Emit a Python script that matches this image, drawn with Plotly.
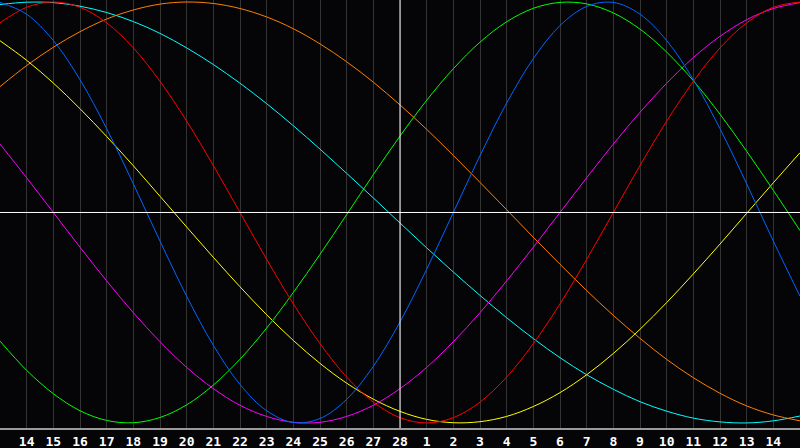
import plotly.graph_objects as go

# Day labels shown under the vertical grid lines (Feb 14 .. Feb 28, Mar 1 .. Mar 14)
day_labels = [str(d) for d in range(14, 29)] + [str(d) for d in range(1, 15)]
# sample positions: one per day, from the day before the first label to the day after the last
day_index = list(range(31))

# cycle values (one value per day, -1 .. 1)
physical_blue = [0.998, 0.942, 0.817, 0.631, 0.398, 0.136, -0.136, -0.398, -0.631, -0.817,
                 -0.942, -0.998, -0.979, -0.888, -0.731, -0.520, -0.270, 0.000, 0.270, 0.520,
                 0.731, 0.888, 0.979, 0.998, 0.942, 0.817, 0.631, 0.398, 0.136, -0.136, -0.398]
emotional_red = [0.901, 0.975, 1.000, 0.975, 0.901, 0.782, 0.623, 0.434, 0.223, 0.000,
                 -0.223, -0.434, -0.623, -0.782, -0.901, -0.975, -1.000, -0.975, -0.901, -0.782,
                 -0.623, -0.434, -0.223, 0.000, 0.223, 0.434, 0.623, 0.782, 0.901, 0.975, 1.000]
intellectual_green = [-0.611, -0.750, -0.861, -0.942, -0.988, -0.999, -0.974, -0.914, -0.820, -0.697,
                      -0.549, -0.380, -0.199, -0.010, 0.180, 0.363, 0.533, 0.683, 0.809, 0.906,
                      0.970, 0.998, 0.991, 0.948, 0.871, 0.762, 0.626, 0.467, 0.291, 0.105, -0.086]
intuitive_magenta = [0.325, 0.165, 0.000, -0.165, -0.325, -0.476, -0.614, -0.736, -0.837, -0.916,
                     -0.969, -0.997, -0.997, -0.969, -0.916, -0.837, -0.736, -0.614, -0.476, -0.325,
                     -0.165, 0.000, 0.165, 0.325, 0.476, 0.614, 0.736, 0.837, 0.916, 0.969, 0.997]
aesthetic_yellow = [0.816, 0.723, 0.615, 0.493, 0.361, 0.222, 0.077, -0.069, -0.213, -0.353,
                    -0.486, -0.608, -0.717, -0.811, -0.887, -0.945, -0.983, -0.999, -0.994, -0.969,
                    -0.922, -0.856, -0.771, -0.670, -0.555, -0.428, -0.292, -0.150, -0.004, 0.141, 0.284]
awareness_orange = [0.598, 0.698, 0.785, 0.859, 0.919, 0.962, 0.990, 1.000, 0.993, 0.969,
                    0.929, 0.873, 0.801, 0.716, 0.619, 0.511, 0.395, 0.271, 0.143, 0.013,
                    -0.118, -0.246, -0.371, -0.489, -0.598, -0.698, -0.785, -0.859, -0.919, -0.962, -0.990]
spiritual_cyan = [0.988, 0.999, 0.997, 0.980, 0.950, 0.907, 0.851, 0.782, 0.703, 0.614,
                  0.517, 0.412, 0.301, 0.186, 0.069, -0.050, -0.168, -0.283, -0.394, -0.500,
                  -0.599, -0.690, -0.771, -0.840, -0.899, -0.944, -0.977, -0.995, -1.000, -0.990, -0.967]

series = [
    ("Spiritual", spiritual_cyan, "#00ffff"),
    ("Awareness", awareness_orange, "#ff8000"),
    ("Aesthetic", aesthetic_yellow, "#ffff00"),
    ("Intuitive", intuitive_magenta, "#ff00ff"),
    ("Intellectual", intellectual_green, "#00ff00"),
    ("Emotional", emotional_red, "#ff0000"),
    ("Physical", physical_blue, "#0066ff"),
]

fig = go.Figure()
for name, vals, col in series:
    fig.add_trace(go.Scatter(x=day_index, y=vals, mode="lines", name=name,
                             line=dict(color=col, width=1, shape="spline"),
                             hoverinfo="skip"))

tick_pos = day_index[1:-1]
center_pos = tick_pos[day_labels.index("28")]

fig.add_shape(type="line", xref="x", yref="paper", x0=center_pos, x1=center_pos, y0=0, y1=1,
              line=dict(color="#ffffff", width=1), layer="above")
fig.add_shape(type="line", xref="paper", yref="y", x0=0, x1=1, y0=0, y1=0,
              line=dict(color="#ffffff", width=1), layer="above")

fig.update_layout(
    width=800, height=448,
    margin=dict(l=0, r=0, t=0, b=20, pad=0),
    paper_bgcolor="#050508",
    plot_bgcolor="#050508",
    showlegend=False,
    xaxis=dict(range=[day_index[0], day_index[-1]], tickmode="array", tickvals=tick_pos,
               ticktext=day_labels, showgrid=True, gridcolor="#333333", gridwidth=1,
               zeroline=False, showline=True, linecolor="#9a9a9a", linewidth=2,
               ticks="", ticklen=0,
               tickfont=dict(family="DejaVu Sans Mono", size=13, color="#ffffff", weight="bold"),
               fixedrange=True),
    yaxis=dict(range=[-1.024, 1.0095], showgrid=False, zeroline=False, showticklabels=False,
               showline=True, linecolor="#9a9a9a", linewidth=2, ticks="", fixedrange=True),
)

fig.write_html("out.html", config={"displayModeBar": False},
               post_script="document.body.style.margin='0';document.body.style.padding='0';"
                           "document.body.style.overflow='hidden';"
                           "document.body.style.background='#050508';")
